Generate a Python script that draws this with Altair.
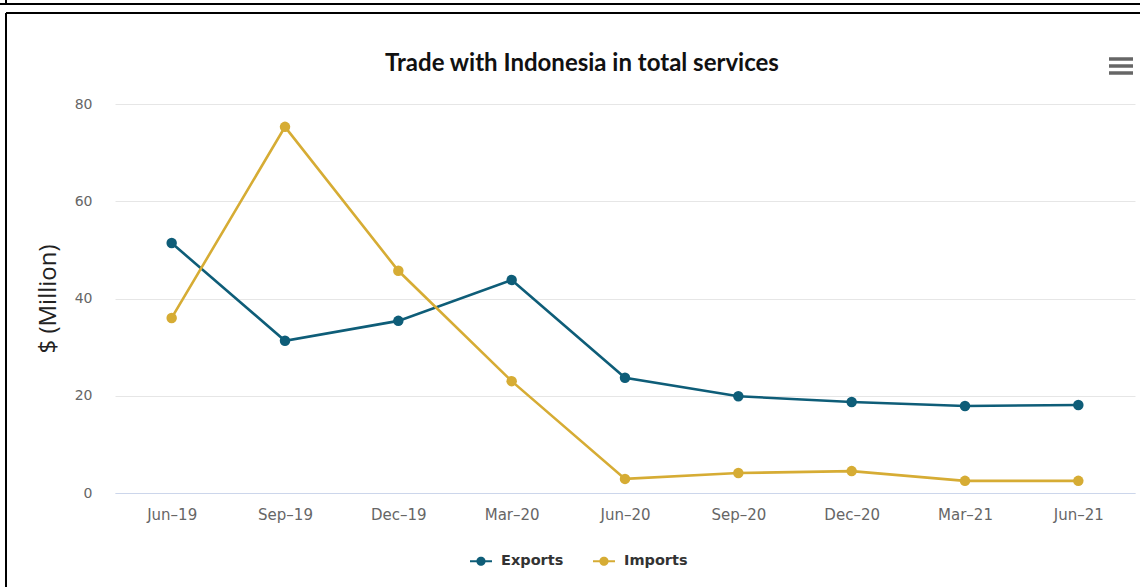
import altair as alt
import pandas as pd

# ---- data ----
quarters = ["Jun–19", "Sep–19", "Dec–19", "Mar–20", "Jun–20",
            "Sep–20", "Dec–20", "Mar–21", "Jun–21"]
exports = [51.4, 31.3, 35.4, 43.8, 23.7, 19.9, 18.7, 17.9, 18.1]
imports = [36.0, 75.3, 45.7, 23.0, 2.9, 4.1, 4.5, 2.5, 2.5]
series_names = ["Exports", "Imports"]
series_colors = ["#0e5d78", "#d6ac34"]
y_ticks = [0, 20, 40, 60, 80]

rows = []
for q, e, i in zip(quarters, exports, imports):
    rows.append({"quarter": q, "series": "Exports", "value": e})
    rows.append({"quarter": q, "series": "Imports", "value": i})
df = pd.DataFrame(rows)

W, H = 1020, 389
LEFT, TOP = 115, 104

legend_symbol = ("M -1 -0.1 L 1 -0.1 L 1 0.1 L -1 0.1 Z "
                 "M -0.42 0 A 0.42 0.42 0 1 1 0.42 0 A 0.42 0.42 0 1 1 -0.42 0 Z")

color_scale = alt.Scale(domain=series_names, range=series_colors)
x_enc = alt.X("quarter:N", sort=quarters,
              scale=alt.Scale(type="point", padding=0.5),
              axis=alt.Axis(title=None, labelAngle=0, ticks=False,
                            domainColor="#ccd6eb", domainWidth=1,
                            labelFont="DejaVu Sans", labelFontSize=15,
                            labelColor="#666666", labelPadding=14, grid=False))
y_enc = alt.Y("value:Q", scale=alt.Scale(domain=[0, 80], nice=False),
              axis=alt.Axis(values=y_ticks, title="$ (Million)", domain=False,
                            ticks=False, grid=True, gridColor="#e6e6e6",
                            labelFont="DejaVu Sans", labelFontSize=14,
                            labelColor="#666666", labelPadding=23,
                            titleFont="Open Sans", titleFontSize=24,
                            titleFontWeight="normal", titleColor="#222222",
                            titleAngle=270, titleX=-67, titleY=H / 2,
                            titleAlign="center", titleBaseline="middle"))

line_layers = []
for name, col in zip(series_names, series_colors):
    line_layers.append(
        alt.Chart(df).transform_filter(alt.datum.series == name)
        .mark_line(strokeWidth=2.6, color=col)
        .encode(x=x_enc, y=y_enc)
    )

points = alt.Chart(df).mark_point(filled=True, size=110, opacity=1).encode(
    x=x_enc, y=y_enc,
    color=alt.Color("series:N", scale=color_scale,
                    legend=alt.Legend(title=None, orient="none",
                                      direction="horizontal",
                                      legendX=355, legendY=446,
                                      symbolType=legend_symbol,
                                      symbolSize=484, symbolStrokeWidth=0,
                                      symbolOpacity=1,
                                      labelFont="DejaVu Sans",
                                      labelFontWeight="bold",
                                      labelFontSize=14.5, labelColor="#333333",
                                      labelOffset=9, columnPadding=29,
                                      padding=0)),
)

one = pd.DataFrame({"d": [0]})


def hrule(x1, x2, y, color="black", w=2):
    return alt.Chart(one).mark_rule(color=color, strokeWidth=w).encode(
        x=alt.value(x1), x2=alt.value(x2), y=alt.value(y))


def vrule(x, y1, y2, color="black", w=2):
    return alt.Chart(one).mark_rule(color=color, strokeWidth=w).encode(
        x=alt.value(x), y=alt.value(y1), y2=alt.value(y2))


frame = [
    hrule(-LEFT, 1140 - LEFT, 4 - TOP),
    vrule(6 - LEFT, -TOP, 4 - TOP),
    hrule(6 - LEFT, 1140 - LEFT, 13 - TOP),
    vrule(6 - LEFT, 13 - TOP, 587 - TOP),
    hrule(1109 - LEFT, 1133 - LEFT, 59 - TOP, "#666666", 3.5),
    hrule(1109 - LEFT, 1133 - LEFT, 66 - TOP, "#666666", 3.5),
    hrule(1109 - LEFT, 1133 - LEFT, 73 - TOP, "#666666", 3.5),
]

chart = alt.layer(*line_layers, points, *frame).properties(
    width=W, height=H,
    background="white",
    title=alt.TitleParams(text="Trade with Indonesia in total services",
                          font="Lato", fontSize=24, fontWeight="bold",
                          color="#111111", anchor="middle", frame="bounds",
                          baseline="alphabetic", offset=0, dx=12, dy=96),
    autosize=alt.AutoSizeParams(type="none"),
    padding={"left": LEFT, "top": TOP, "right": 1140 - LEFT - W, "bottom": 587 - TOP - H},
).configure_view(stroke=None)

chart.save("out.html", embed_options={"renderer": "svg", "actions": False})
